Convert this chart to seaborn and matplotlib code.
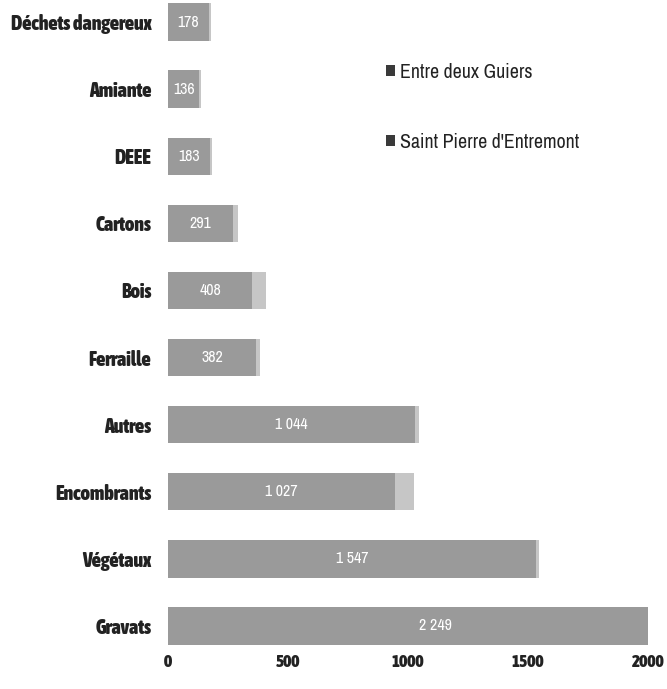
import matplotlib
matplotlib.use("Agg")
import matplotlib.pyplot as plt
from matplotlib import font_manager
from matplotlib.patches import Patch
import seaborn as sns
import pandas as pd

categories = ["Déchets dangereux", "Amiante", "DEEE", "Cartons", "Bois",
              "Ferraille", "Autres", "Encombrants", "Végétaux", "Gravats"]
entre_deux_guiers = [170, 130, 175, 272, 350, 368, 1030, 945, 1535, 2230]
saint_pierre = [8, 6, 8, 19, 58, 14, 14, 82, 12, 19]
labels = ["178", "136", "183", "291", "408", "382", "1 044", "1 027", "1 547", "2 249"]
series_names = ["Entre deux Guiers", "Saint Pierre d'Entremont"]
x_ticks = [0, 500, 1000, 1500, 2000]

dark = "#9a9a9a"
light = "#c6c6c6"

df = pd.DataFrame({"categorie": categories,
                   "entre": entre_deux_guiers,
                   "saint": saint_pierre})
df["total"] = df["entre"] + df["saint"]

sns.set_theme(style="white")

# narrow typeface, bold file preferred for the axis labels
narrow_fonts = [f for f in font_manager.fontManager.ttflist
                if any(k in f.name for k in ("Narrow", "Condensed"))]
bold_narrow = [f for f in narrow_fonts
               if (isinstance(f.weight, int) and f.weight >= 600)
               or str(f.weight).lower() in ("bold", "semibold", "heavy", "black")]
bold_prop = (font_manager.FontProperties(fname=bold_narrow[0].fname)
             if bold_narrow else
             font_manager.FontProperties(family="DejaVu Sans", weight="bold",
                                         stretch="condensed"))
family = narrow_fonts[0].name if narrow_fonts else "DejaVu Sans"
plt.rcParams["font.family"] = [family, "DejaVu Sans"]

fig = plt.figure(figsize=(6.67, 6.89), dpi=100)
ax = fig.add_axes([168 / 667, 1 - 648 / 689, 480 / 667, 648 / 689])

# stacked bars: total underneath, first commune drawn over it
sns.barplot(data=df, x="total", y="categorie", color=light, width=0.56,
            saturation=1, linewidth=0, ax=ax, orient="h")
sns.barplot(data=df, x="entre", y="categorie", color=dark, width=0.56,
            saturation=1, linewidth=0, ax=ax, orient="h")

for i, (v, txt) in enumerate(zip(df["entre"], labels)):
    ax.text(v / 2, i, txt, ha="center", va="center", color="white",
            fontsize=11.5)

ax.set_xlim(0, 2000)
ax.set_ylim(9.33, -0.33)
ax.set_xticks(x_ticks)
ax.set_xticklabels([str(t) for t in x_ticks])
ax.tick_params(axis="x", length=0, pad=4)
ax.tick_params(axis="y", length=0, pad=12)
for lab in ax.get_xticklabels():
    lab.set_fontproperties(bold_prop)
    lab.set_fontsize(12.5)
    lab.set_color("#222222")
for lab in ax.get_yticklabels():
    lab.set_fontproperties(bold_prop)
    lab.set_fontsize(14.3)
    lab.set_color("#222222")
ax.set_xlabel("")
ax.set_ylabel("")
sns.despine(ax=ax, left=True, bottom=True)

handles = [Patch(facecolor="#3a3a3a", edgecolor="none"),
           Patch(facecolor="#3a3a3a", edgecolor="none")]
leg = fig.legend(handles, series_names, loc="upper left",
                 bbox_to_anchor=(368 / 667, 1 - 45 / 689), frameon=False,
                 fontsize=14.3, handlelength=0.45, handleheight=0.45,
                 handletextpad=0.25, labelspacing=2.55, labelcolor="#222222")

fig.savefig("out.png", dpi=100)
